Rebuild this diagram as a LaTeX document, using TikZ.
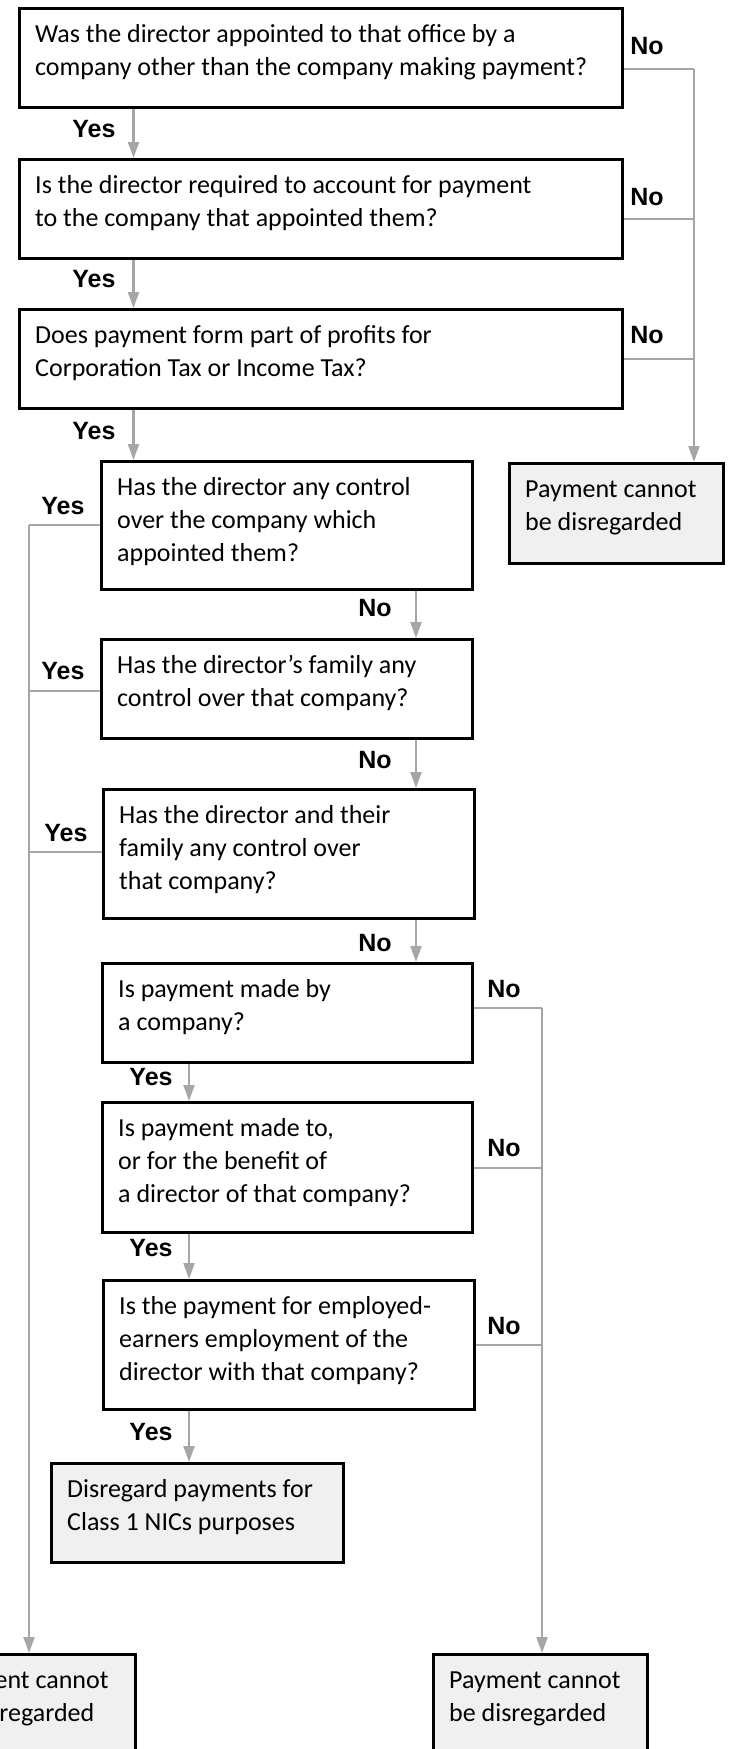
\documentclass[tikz,border=0pt]{standalone}
\usepackage{fontspec}
\setmainfont{Carlito}
\newfontfamily\lblfont{Liberation Sans}
\usetikzlibrary{arrows.meta}
\definecolor{linegray}{HTML}{A6A6A6}
\definecolor{boxgray}{HTML}{F0F0F0}
\newcommand{\bodyfnt}{\fontsize{26}{33}\selectfont}
\tikzset{
  qbox/.style={draw=black, line width=2.5pt, rectangle, inner sep=0pt, anchor=north west, fill=white},
  endbox/.style={qbox, fill=boxgray},
  txt/.style={anchor=north west, inner sep=0pt, align=left, font=\bodyfnt},
  lbl/.style={inner sep=0pt, font={\lblfont\bfseries\fontsize{25}{28}\selectfont}},
  conn/.style={draw=linegray, line width=2.2pt},
  arr/.style={conn, -{Triangle[length=16pt,width=11pt,color=linegray]}}
}
\begin{document}
\begin{tikzpicture}[x=1pt,y=-1pt]
\clip (0,0) rectangle (730,1749);
\useasboundingbox (0,0) rectangle (730,1749);
% question boxes
\node[qbox, minimum width=603pt, minimum height=99pt] (B1) at (18,7) {};
\node[qbox, minimum width=603pt, minimum height=99pt] (B2) at (18,158) {};
\node[qbox, minimum width=603pt, minimum height=99pt] (B3) at (18,308) {};
\node[qbox, minimum width=371pt, minimum height=128pt] (B4) at (100,460) {};
\node[qbox, minimum width=371pt, minimum height=99pt] (B5) at (100,638) {};
\node[qbox, minimum width=371pt, minimum height=129pt] (B6) at (102,788) {};
\node[qbox, minimum width=370pt, minimum height=99pt] (B7) at (101,962) {};
\node[qbox, minimum width=370pt, minimum height=130pt] (B8) at (101,1101) {};
\node[qbox, minimum width=371pt, minimum height=129pt] (B9) at (102,1279) {};
% end boxes
\node[endbox, minimum width=214pt, minimum height=100pt] (T1) at (508,462) {};
\node[endbox, minimum width=292pt, minimum height=99pt] (T2) at (50,1462) {};
\node[endbox, minimum width=214pt, minimum height=100pt] (T3) at (-80,1653) {};
\node[endbox, minimum width=214pt, minimum height=100pt] (T4) at (432,1653) {};
% texts
\node[txt] (x1) at (35,18.9) {\strut Was the director appointed to that office by a\\company other than the company making payment?};
\node[txt] (x2) at (35,169.9) {\strut Is the director required to account for payment\\to the company that appointed them?};
\node[txt] (x3) at (35,319.9) {\strut Does payment form part of profits for\\Corporation Tax or Income Tax?};
\node[txt] (x4) at (117,471.9) {\strut Has the director any control\\over the company which\\appointed them?};
\node[txt] (x5) at (117,649.9) {\strut Has the director’s family any\\control over that company?};
\node[txt] (x6) at (119,799.9) {\strut Has the director and their\\family any control over\\that company?};
\node[txt] (x7) at (118,973.9) {\strut Is payment made by\\a company?};
\node[txt] (x8) at (118,1112.9) {\strut Is payment made to,\\or for the benefit of\\a director of that company?};
\node[txt] (x9) at (119,1290.9) {\strut Is the payment for employed-\\earners employment of the\\director with that company?};
\node[txt] (y1) at (525,473.9) {\strut Payment cannot\\be disregarded};
\node[txt] (y2) at (67,1473.9) {\strut Disregard payments for\\Class 1 NICs purposes};
\node[txt] (y3) at (-63,1664.9) {\strut Payment cannot\\be disregarded};
\node[txt] (y4) at (449,1664.9) {\strut Payment cannot\\be disregarded};
% junction coordinates
\coordinate (cA) at (133.5,0);
\coordinate (cB) at (416,0);
\coordinate (cC) at (189,0);
\coordinate (n1) at (694,69);
\coordinate (n2) at (694,219);
\coordinate (n3) at (694,359);
\coordinate (w1) at (29,525);
\coordinate (w2) at (29,691);
\coordinate (w3) at (29,852);
\coordinate (e1) at (542,1008);
\coordinate (e2) at (542,1168);
\coordinate (e3) at (542,1345);
% Yes chain top
\draw[arr] (B1.south -| cA) -- (B2.north -| cA);
\draw[arr] (B2.south -| cA) -- (B3.north -| cA);
\draw[arr] (B3.south -| cA) -- (B4.north -| cA);
% No chain middle
\draw[arr] (B4.south -| cB) -- (B5.north -| cB);
\draw[arr] (B5.south -| cB) -- (B6.north -| cB);
\draw[arr] (B6.south -| cB) -- (B7.north -| cB);
% Yes chain bottom
\draw[arr] (B7.south -| cC) -- (B8.north -| cC);
\draw[arr] (B8.south -| cC) -- (B9.north -| cC);
\draw[arr] (B9.south -| cC) -- (T2.north -| cC);
% right No branch (top)
\draw[conn] (B1.east |- n1) -- (n1);
\draw[conn] (B2.east |- n2) -- (n2);
\draw[conn] (B3.east |- n3) -- (n3);
\draw[arr] (n1) -- (n1 |- T1.north);
% left Yes branch
\draw[conn] (B4.west |- w1) -- (w1);
\draw[conn] (B5.west |- w2) -- (w2);
\draw[conn] (B6.west |- w3) -- (w3);
\draw[arr] (w1) -- (w1 |- T3.north);
% right No branch (bottom)
\draw[conn] (B7.east |- e1) -- (e1);
\draw[conn] (B8.east |- e2) -- (e2);
\draw[conn] (B9.east |- e3) -- (e3);
\draw[arr] (e1) -- (e1 |- T4.north);
% labels
\node[lbl] (No1) at (647,46) {No};
\node[lbl] (No2) at (647,197) {No};
\node[lbl] (No3) at (647,335) {No};
\node[lbl] (Yes1) at (94,129) {Yes};
\node[lbl] (Yes2) at (94,279) {Yes};
\node[lbl] (Yes3) at (94,431) {Yes};
\node[lbl] (Yes4) at (63,506) {Yes};
\node[lbl] (Yes5) at (63,671) {Yes};
\node[lbl] (Yes6) at (66,833) {Yes};
\node[lbl] (No4) at (375,608) {No};
\node[lbl] (No5) at (375,760) {No};
\node[lbl] (No6) at (375,943) {No};
\node[lbl] (No7) at (504,989) {No};
\node[lbl] (No8) at (504,1148) {No};
\node[lbl] (No9) at (504,1326) {No};
\node[lbl] (Yes7) at (151,1077) {Yes};
\node[lbl] (Yes8) at (151,1248) {Yes};
\node[lbl] (Yes9) at (151,1432) {Yes};
\end{tikzpicture}
\end{document}
